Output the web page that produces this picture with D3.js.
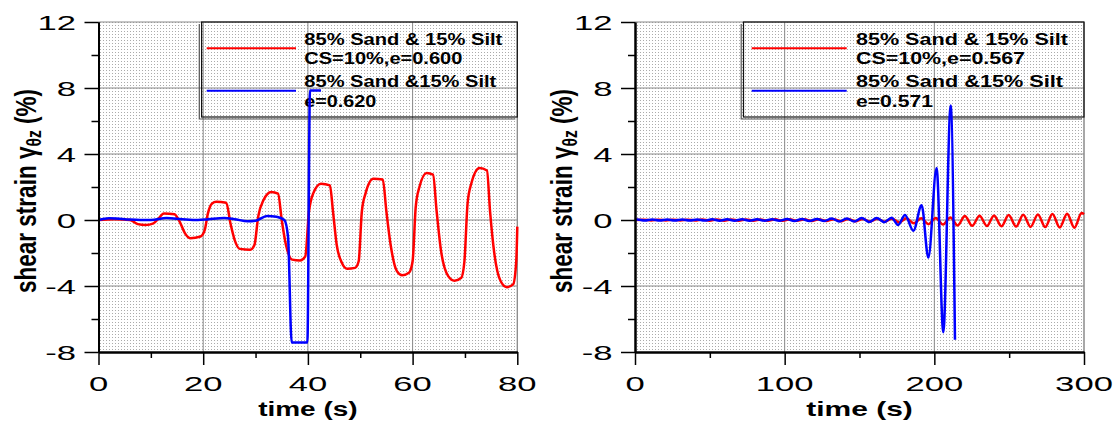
<!DOCTYPE html>
<html><head><meta charset="utf-8">
<script src="https://cdn.jsdelivr.net/npm/d3@7"></script>
<style>body{margin:0;background:#fff}svg{display:block}</style>
</head><body>
<svg id="chart" width="1116" height="426"></svg>
<script>
// ---------------- data ----------------
const leftRedTime = [0,3,6,7.5,9,10.5,11.5,12.5,14.5,15.5,16.5,17.5,19.5,20.3,20.9,21.7,22.5,24.4,25.2,26,27,29,29.8,30.5,31.5,33,34.3,35,35.8,37,38.5,39.5,40.2,41,42.5,44.2,44.8,45.5,46.5,47.5,49,49.7,50.3,51,52.5,54.3,55,55.8,57,58,59.3,60,60.6,61.3,62.7,63.9,64.6,65.4,66.8,68,69.3,69.9,70.5,71.2,72.8,74.2,74.8,75.6,76.8,78,79.2,79.8,80];
const leftRed = [0,0.05,0,-0.25,-0.3,-0.2,0.1,0.4,0.35,-0.1,-0.8,-1.1,-1.0,-0.6,0.4,1.0,1.1,1.05,-0.2,-1.2,-1.75,-1.8,-1.5,0.2,1.2,1.7,1.6,0.0,-1.5,-2.4,-2.45,-2.2,0.5,1.6,2.2,2.1,0.5,-1.5,-2.6,-2.95,-2.9,-2.5,0.5,1.6,2.5,2.45,0.5,-1.5,-3.1,-3.35,-3.2,-2.5,0.8,2.0,2.85,2.75,0.5,-1.8,-3.4,-3.68,-3.5,-2.5,1.0,2.2,3.15,3.0,0.5,-2.0,-3.7,-4.07,-3.9,-2.5,-0.4];
const leftBlueTime = [0,2,5,8,10,13,16,19,21,24,26,28.5,30,32.2,34,35.5,36.2,36.9,39.9,40.4,42.5];
const leftBlue = [0,0.1,0.05,0,0,0.12,0.05,0,0.05,0.12,0.05,-0.08,-0.05,0.25,0.2,0.0,-1.0,-7.42,-7.42,7.85,7.85];

const rightRedTime = [0,5.9,10.8,15.7,20.6,25.4,30.3,35.2,40.1,44.9,49.8,54.7,59.6,64.4,69.3,74.2,79.1,83.9,88.8,93.7,98.6,103.4,108.3,113.2,118.1,122.9,127.8,132.7,137.6,142.4,147.3,152.2,157.1,161.9,166.8,171.7,176.6,181.4,186.3,191.2,196.1,200.9,205.8,210.7,215.6,220.4,225.3,230.2,235.1,239.9,244.8,249.7,254.6,259.4,264.3,269.2,274.1,278.9,283.8,288.7,293.6,298.4,300];
const rightRed = [0,0.02,-0.03,0.02,-0.03,0.02,-0.03,0.02,-0.03,0.03,-0.04,0.03,-0.04,0.03,-0.04,0.03,-0.04,0.03,-0.05,0.04,-0.05,0.04,-0.05,0.04,-0.06,0.05,-0.06,0.05,-0.07,0.06,-0.08,0.06,-0.09,0.07,-0.1,0.08,-0.15,0.1,-0.2,0.1,-0.25,0.12,-0.28,0.15,-0.33,0.24,-0.35,0.26,-0.36,0.28,-0.38,0.3,-0.4,0.32,-0.42,0.34,-0.43,0.36,-0.45,0.38,-0.47,0.42,0.35];
const rightBlueTime = [0,1.5,6.5,11.5,16.5,21.5,26.5,31.5,36.5,41.5,46.5,51.5,56.5,61.5,66.5,71.5,76.5,81.5,86.5,91.5,96.5,101.5,106.5,111.5,116.5,121.5,126.5,131.5,136.5,141.5,146.5,151.5,156.5,161.5,166.5,171.5,175.8,180.4,186,191.5,196,201.5,206,210.9,213.8];
const rightBlue = [0,0.03,-0.03,0.03,-0.03,0.03,-0.03,0.03,-0.03,0.03,-0.03,0.04,-0.04,0.04,-0.04,0.04,-0.04,0.04,-0.04,0.04,-0.04,0.06,-0.06,0.06,-0.06,0.06,-0.06,0.09,-0.09,0.09,-0.09,0.12,-0.12,0.12,-0.13,0.14,-0.3,0.3,-0.65,0.9,-2.28,3.15,-6.8,6.94,-7.26];

const yMajorTicks = [12,8,4,0,-4,-8];
const yMinorTicks = [10,6,2,-2,-6];
const leftXTicks = [0,20,40,60,80];
const leftXMinor = [10,30,50,70];
const rightXTicks = [0,100,200,300];
const rightXMinor = [50,150,250];
const leftLegend = ["85% Sand & 15% Silt","CS=10%,e=0.600","85% Sand &15% Silt","e=0.620"];
const rightLegend = ["85% Sand & 15% Silt","CS=10%,e=0.567","85% Sand &15% Silt","e=0.571"];
const xTitle = "time (s)";

// ---------------- drawing ----------------
const svg = d3.select('#chart');
const FONT = "'Liberation Sans', Arial, Helvetica, sans-serif";
const defs = svg.append('defs');
const pat = defs.append('pattern').attr('id','dots').attr('patternUnits','userSpaceOnUse')
  .attr('width',3).attr('height',3);
pat.append('rect').attr('width',3).attr('height',3).attr('fill','#ffffff');
pat.append('rect').attr('x',1).attr('y',1).attr('width',1).attr('height',1).attr('fill','#ababab');

function stext(g, x, y, str, fs, sx, anchor, weight) {
  return g.append('text')
    .attr('transform', `translate(${x},${y}) scale(${sx},1)`)
    .attr('text-anchor', anchor)
    .style('font-family', FONT).style('font-size', fs + 'px').style('font-weight', weight)
    .attr('fill', '#000').text(str);
}

function panel(cfg) {
  const x = d3.scaleLinear().domain(cfg.xDomain).range(cfg.xRange);
  const y = d3.scaleLinear().domain([-8, 12]).range([352, 22]);
  const g = svg.append('g');
  const [x0, x1] = cfg.xRange;
  g.append('rect').attr('x', x0).attr('y', 22).attr('width', x1 - x0).attr('height', 330).attr('fill', 'url(#dots)');

  // grid
  g.append('g').selectAll('line').data(cfg.xTicks.slice(1)).join('line')
    .attr('x1', d => x(d)).attr('x2', d => x(d)).attr('y1', 22).attr('y2', 352)
    .attr('stroke', '#8a8a8a').attr('stroke-width', 1);
  g.append('g').selectAll('line').data(yMajorTicks.slice(1, -1)).join('line')
    .attr('x1', x0).attr('x2', x1).attr('y1', d => y(d)).attr('y2', d => y(d))
    .attr('stroke', '#8a8a8a').attr('stroke-width', 1);
  g.append('path').attr('d', `M${x0},22H${x1}V352`).attr('fill', 'none').attr('stroke', '#8a8a8a');

  // legend box
  const lb = cfg.legendBox;
  g.append('path').attr('d', `M${lb[0] - 2.3},24V${lb[3] + 2}H${lb[2] - 2}`)
    .attr('fill', 'none').attr('stroke', '#555').attr('stroke-width', 1.2);
  g.append('rect').attr('x', lb[0]).attr('y', lb[1]).attr('width', lb[2] - lb[0]).attr('height', lb[3] - lb[1])
    .attr('fill', 'none').attr('stroke', '#111').attr('stroke-width', 1.2);
  g.append('line').attr('x1', cfg.legLine[0]).attr('x2', cfg.legLine[1]).attr('y1', 48.3).attr('y2', 48.3)
    .attr('stroke', '#ff0000').attr('stroke-width', 2);
  g.append('line').attr('x1', cfg.legLine[0]).attr('x2', cfg.legLine[1]).attr('y1', 90.7).attr('y2', 90.7)
    .attr('stroke', '#0000ff').attr('stroke-width', 2);
  const baselines = [45, 64, 87.3, 106.7];
  cfg.legend.forEach((s, i) => {
    g.append('text').attr('x', cfg.legTextX).attr('y', baselines[i])
      .attr('textLength', cfg.legWidths[i]).attr('lengthAdjust', 'spacingAndGlyphs')
      .style('font-family', FONT).style('font-size', '16.5px').style('font-weight', 'bold')
      .text(s);
  });

  // data lines
  const line = d3.line().x(d => x(d[0])).y(d => y(d[1])).curve(d3.curveMonotoneX);
  const red = d3.zip(cfg.redT, cfg.redV);
  const blue = d3.zip(cfg.blueT, cfg.blueV);
  g.append('path').datum(red).attr('d', line).attr('fill', 'none').attr('stroke', '#ff0000')
    .attr('stroke-width', 2.5).attr('stroke-linejoin', 'round');
  g.append('path').datum(blue).attr('d', line).attr('fill', 'none').attr('stroke', '#0000ff')
    .attr('stroke-width', 2.5).attr('stroke-linejoin', 'round');

  // axes
  const ax = g.append('g').attr('transform', `translate(${x0},0)`);
  ax.call(d3.axisLeft(y).tickValues(yMajorTicks).tickSize(14).tickSizeOuter(0).tickFormat(''));
  ax.append('g').call(d3.axisLeft(y).tickValues(yMinorTicks).tickSize(7).tickSizeOuter(0).tickFormat(''));
  const bx = g.append('g').attr('transform', `translate(0,352)`);
  bx.call(d3.axisBottom(x).tickValues(cfg.xTicks).tickSize(13).tickSizeOuter(0).tickFormat(''));
  bx.append('g').call(d3.axisBottom(x).tickValues(cfg.xMinor).tickSize(6).tickSizeOuter(0).tickFormat(''));
  g.selectAll('.domain').attr('stroke', '#000').attr('stroke-width', 2);
  g.selectAll('.tick line').attr('stroke', '#000').attr('stroke-width', 1.5);

  // tick labels
  yMajorTicks.forEach(v => stext(g, x0 - 22.5, y(v) + 7.5, String(v), 21, 1.65, 'end', 'normal'));
  cfg.xTicks.forEach(v => stext(g, x(v), 391, String(v), 21, 1.65, 'middle', 'normal'));
  // titles
  stext(g, (x0 + x1) / 2, 416, xTitle, 20, cfg.titleScale, 'middle', 'bold');
  const yt = g.append('text').attr('transform', `translate(${x0 - 63},191) rotate(-90) scale(0.98,1.28)`)
    .attr('text-anchor', 'middle').style('font-family', FONT).style('font-size', '23px').style('font-weight', 'bold');
  yt.append('tspan').text('shear strain γ');
  yt.append('tspan').attr('dy', 4).style('font-size', '16px').text('θz');
  yt.append('tspan').attr('dy', -4).text(' (%)');
}

panel({
  xDomain: [0, 80], xRange: [98.5, 517.3], xTicks: leftXTicks, xMinor: leftXMinor,
  redT: leftRedTime, redV: leftRed, blueT: leftBlueTime, blueV: leftBlue,
  legendBox: [201.6, 22, 517.3, 117], legLine: [206.7, 296], legTextX: 304.3,
  legend: leftLegend, legWidths: [198, 158, 192, 72], titleScale: 1.4
});
panel({
  xDomain: [0, 300], xRange: [635, 1084], xTicks: rightXTicks, xMinor: rightXMinor,
  redT: rightRedTime, redV: rightRed, blueT: rightBlueTime, blueV: rightBlue,
  legendBox: [743.5, 22, 1084, 117], legLine: [751.7, 846.7], legTextX: 856,
  legend: rightLegend, legWidths: [212, 169, 207, 77], titleScale: 1.5
});
</script>
</body></html>
